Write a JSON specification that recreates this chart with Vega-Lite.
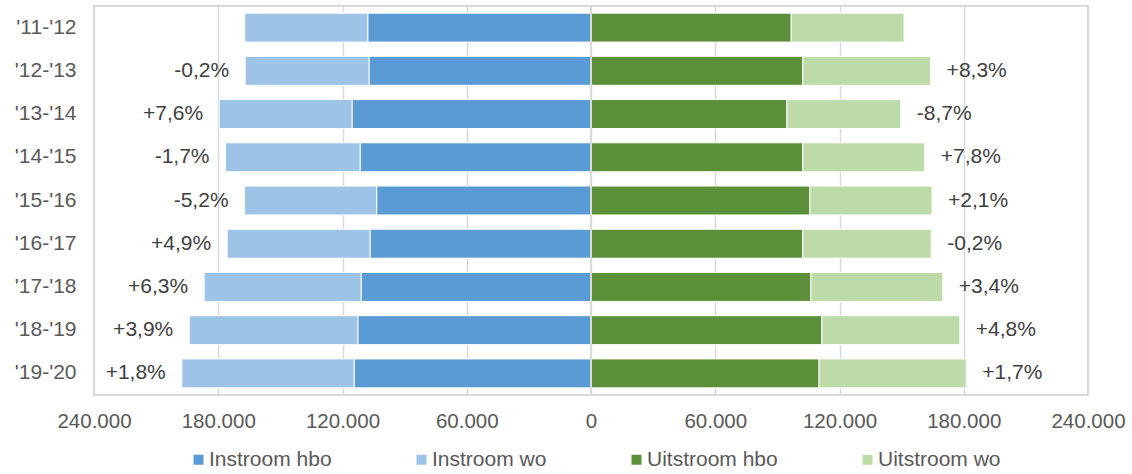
{
  "$schema": "https://vega.github.io/schema/vega-lite/v6.json",
  "width": 994,
  "height": 389,
  "autosize": "none",
  "padding": {"left": 94, "top": 6, "right": 44, "bottom": 79},
  "background": "white",
  "config": {
    "font": "Liberation Sans",
    "view": {"stroke": "#d9d9d9", "strokeWidth": 2},
    "axis": {"labelFont": "Liberation Sans", "labelColor": "#595959"},
    "legend": {"labelFont": "Liberation Sans"}
  },
  "datasets": {
    "bars": [
      {"jaar": "'11-'12", "cat": "Instroom hbo", "waarde": -107800},
      {"jaar": "'11-'12", "cat": "Instroom wo", "waarde": -59400},
      {"jaar": "'11-'12", "cat": "Uitstroom hbo", "waarde": 96700},
      {"jaar": "'11-'12", "cat": "Uitstroom wo", "waarde": 54500},
      {"jaar": "'12-'13", "cat": "Instroom hbo", "waarde": -107200},
      {"jaar": "'12-'13", "cat": "Instroom wo", "waarde": -59800},
      {"jaar": "'12-'13", "cat": "Uitstroom hbo", "waarde": 102300},
      {"jaar": "'12-'13", "cat": "Uitstroom wo", "waarde": 61700},
      {"jaar": "'13-'14", "cat": "Instroom hbo", "waarde": -115400},
      {"jaar": "'13-'14", "cat": "Instroom wo", "waarde": -64200},
      {"jaar": "'13-'14", "cat": "Uitstroom hbo", "waarde": 94600},
      {"jaar": "'13-'14", "cat": "Uitstroom wo", "waarde": 55000},
      {"jaar": "'14-'15", "cat": "Instroom hbo", "waarde": -111500},
      {"jaar": "'14-'15", "cat": "Instroom wo", "waarde": -65000},
      {"jaar": "'14-'15", "cat": "Uitstroom hbo", "waarde": 102300},
      {"jaar": "'14-'15", "cat": "Uitstroom wo", "waarde": 58900},
      {"jaar": "'15-'16", "cat": "Instroom hbo", "waarde": -103500},
      {"jaar": "'15-'16", "cat": "Instroom wo", "waarde": -63800},
      {"jaar": "'15-'16", "cat": "Uitstroom hbo", "waarde": 105700},
      {"jaar": "'15-'16", "cat": "Uitstroom wo", "waarde": 59000},
      {"jaar": "'16-'17", "cat": "Instroom hbo", "waarde": -106700},
      {"jaar": "'16-'17", "cat": "Instroom wo", "waarde": -69000},
      {"jaar": "'16-'17", "cat": "Uitstroom hbo", "waarde": 102300},
      {"jaar": "'16-'17", "cat": "Uitstroom wo", "waarde": 62000},
      {"jaar": "'17-'18", "cat": "Instroom hbo", "waarde": -111000},
      {"jaar": "'17-'18", "cat": "Instroom wo", "waarde": -75800},
      {"jaar": "'17-'18", "cat": "Uitstroom hbo", "waarde": 106200},
      {"jaar": "'17-'18", "cat": "Uitstroom wo", "waarde": 63700},
      {"jaar": "'18-'19", "cat": "Instroom hbo", "waarde": -112600},
      {"jaar": "'18-'19", "cat": "Instroom wo", "waarde": -81400},
      {"jaar": "'18-'19", "cat": "Uitstroom hbo", "waarde": 111500},
      {"jaar": "'18-'19", "cat": "Uitstroom wo", "waarde": 66600},
      {"jaar": "'19-'20", "cat": "Instroom hbo", "waarde": -114400},
      {"jaar": "'19-'20", "cat": "Instroom wo", "waarde": -83200},
      {"jaar": "'19-'20", "cat": "Uitstroom hbo", "waarde": 110100},
      {"jaar": "'19-'20", "cat": "Uitstroom wo", "waarde": 71100}
    ],
    "labels": [
      {"jaar": "'12-'13", "kant": "in", "totaal": -167000, "pct": "-0,2%"},
      {"jaar": "'13-'14", "kant": "in", "totaal": -179600, "pct": "+7,6%"},
      {"jaar": "'14-'15", "kant": "in", "totaal": -176500, "pct": "-1,7%"},
      {"jaar": "'15-'16", "kant": "in", "totaal": -167300, "pct": "-5,2%"},
      {"jaar": "'16-'17", "kant": "in", "totaal": -175700, "pct": "+4,9%"},
      {"jaar": "'17-'18", "kant": "in", "totaal": -186800, "pct": "+6,3%"},
      {"jaar": "'18-'19", "kant": "in", "totaal": -194000, "pct": "+3,9%"},
      {"jaar": "'19-'20", "kant": "in", "totaal": -197600, "pct": "+1,8%"},
      {"jaar": "'12-'13", "kant": "uit", "totaal": 164000, "pct": "+8,3%"},
      {"jaar": "'13-'14", "kant": "uit", "totaal": 149600, "pct": "-8,7%"},
      {"jaar": "'14-'15", "kant": "uit", "totaal": 161200, "pct": "+7,8%"},
      {"jaar": "'15-'16", "kant": "uit", "totaal": 164700, "pct": "+2,1%"},
      {"jaar": "'16-'17", "kant": "uit", "totaal": 164300, "pct": "-0,2%"},
      {"jaar": "'17-'18", "kant": "uit", "totaal": 169900, "pct": "+3,4%"},
      {"jaar": "'18-'19", "kant": "uit", "totaal": 178100, "pct": "+4,8%"},
      {"jaar": "'19-'20", "kant": "uit", "totaal": 181200, "pct": "+1,7%"}
    ]
  },
  "encoding": {
    "y": {
      "field": "jaar",
      "type": "nominal",
      "sort": null,
      "scale": {"paddingInner": 0.33, "paddingOuter": 0.165},
      "axis": {"title": null, "domain": false, "ticks": false, "tickSize": 0, "labelPadding": 18, "labelFontSize": 21, "grid": false}
    }
  },
  "layer": [
    {
      "data": {"name": "bars"},
      "mark": {"type": "bar", "stroke": "white", "strokeWidth": 1},
      "encoding": {
        "x": {
          "field": "waarde",
          "type": "quantitative",
          "stack": "zero",
          "scale": {"domain": [-240000, 240000], "nice": false, "zero": false},
          "axis": {
            "title": null,
            "values": [-240000, -180000, -120000, -60000, 0, 60000, 120000, 180000, 240000],
            "labelExpr": "replace(format(abs(datum.value), ','), ',', '.')",
            "domain": false,
            "ticks": false,
            "tickSize": 0,
            "labelPadding": 16,
            "labelFontSize": 20.5,
            "labelFlush": false,
            "grid": true,
            "gridColor": "#d9d9d9",
            "gridWidth": 1.5
          }
        },
        "color": {
          "field": "cat",
          "type": "nominal",
          "scale": {
            "domain": ["Instroom hbo", "Instroom wo", "Uitstroom hbo", "Uitstroom wo"],
            "range": ["#5b9bd5", "#9dc3e6", "#5b8f3a", "#bddba8"]
          },
          "legend": {
            "title": null,
            "orient": "none",
            "direction": "horizontal",
            "legendX": 94,
            "legendY": 443,
            "padding": 0,
            "symbolType": "square",
            "symbolSize": 100,
            "symbolStrokeWidth": 0,
            "labelFontSize": 21,
            "labelColor": "#595959",
            "labelOffset": 0,
            "columnPadding": 79
          }
        },
        "order": {"field": "cat", "sort": "ascending"}
      }
    },
    {
      "data": {"values": [{"nul": 0}]},
      "mark": {"type": "rule", "color": "#d9d9d9", "strokeWidth": 2},
      "encoding": {"x": {"field": "nul", "type": "quantitative"}, "y": null}
    },
    {
      "data": {"name": "labels"},
      "transform": [{"filter": "datum.kant === 'in'"}],
      "mark": {"type": "text", "align": "right", "dx": -16, "fontSize": 21, "color": "#404040", "baseline": "middle"},
      "encoding": {
        "x": {"field": "totaal", "type": "quantitative"},
        "text": {"field": "pct"}
      }
    },
    {
      "data": {"name": "labels"},
      "transform": [{"filter": "datum.kant === 'uit'"}],
      "mark": {"type": "text", "align": "left", "dx": 16, "fontSize": 21, "color": "#404040", "baseline": "middle"},
      "encoding": {
        "x": {"field": "totaal", "type": "quantitative"},
        "text": {"field": "pct"}
      }
    }
  ]
}
